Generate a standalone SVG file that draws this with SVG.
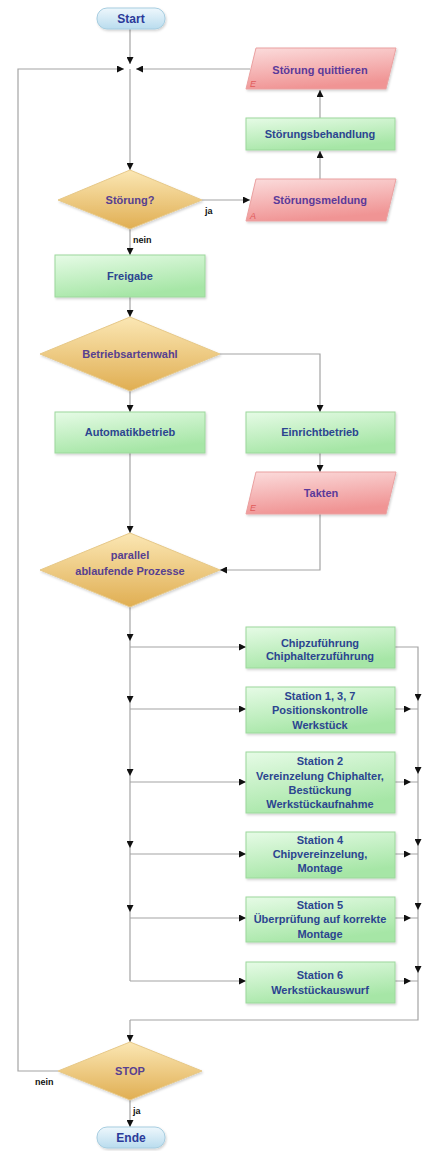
<svg xmlns="http://www.w3.org/2000/svg" width="427" height="1151" viewBox="0 0 427 1151">
<defs>
<linearGradient id="gTerm" x1="0" y1="0" x2="0" y2="1"><stop offset="0" stop-color="#eef7fc"/><stop offset="1" stop-color="#b9dcee"/></linearGradient>
<linearGradient id="gProc" x1="0" y1="0" x2="0.4" y2="1"><stop offset="0" stop-color="#e6fbe6"/><stop offset="1" stop-color="#a6e6a6"/></linearGradient>
<linearGradient id="gIO" x1="0" y1="0" x2="0.3" y2="1"><stop offset="0" stop-color="#fbdcdc"/><stop offset="1" stop-color="#f09494"/></linearGradient>
<linearGradient id="gDec" x1="0" y1="0" x2="0" y2="1"><stop offset="0" stop-color="#fbe7b4"/><stop offset="1" stop-color="#e0ae52"/></linearGradient>
<filter id="sh" x="-10%" y="-10%" width="130%" height="140%"><feDropShadow dx="1" dy="1.5" stdDeviation="1" flood-color="#000" flood-opacity="0.18"/></filter>
<marker id="ah" markerUnits="userSpaceOnUse" markerWidth="7" markerHeight="7" refX="7" refY="3.5" orient="auto"><path d="M0,0 L7,3.5 L0,7 z" fill="#111"/></marker>
<style>
.term{fill:url(#gTerm);stroke:#a6cde0;stroke-width:1;filter:url(#sh)}
.proc{fill:url(#gProc);stroke:#9cd89c;stroke-width:1;filter:url(#sh)}
.io{fill:url(#gIO);stroke:#eaa0a0;stroke-width:1;filter:url(#sh)}
.dec{fill:url(#gDec);stroke:#e6c888;stroke-width:1;filter:url(#sh)}
text{font-family:"Liberation Sans",Arial,sans-serif;font-weight:bold;text-anchor:middle}
.tt{font-size:12px;fill:#2b3a9a}
.tp{font-size:11px;fill:#2b4590}
.ti{font-size:11px;fill:#5b3a9a}
.td{font-size:11px;fill:#574090}
.lab{font-size:9px;fill:#111;text-anchor:start}
.mk{font-size:9px;fill:#e05a5a;font-weight:normal;font-style:italic;text-anchor:start}
.c{fill:none;stroke:#a4a4a4;stroke-width:1.2}
.a{marker-end:url(#ah)}
.ao{fill:none;stroke:none;marker-end:url(#ah)}
</style>
</defs>

<g id="connectors">
<path class="c a" d="M130,29 V64"/>
<path class="c a" d="M250,69 H136"/>
<path class="c a" d="M58,1071 H18 V69 H124"/>
<path class="c a" d="M130,69 V170"/>
<path class="c a" d="M320,118 V90"/>
<path class="c a" d="M320,179 V151"/>
<path class="c a" d="M202,200 H250"/>
<path class="c a" d="M130,229 V255"/>
<path class="c a" d="M130,297 V317"/>
<path class="c a" d="M220,354 H320 V412"/>
<path class="c a" d="M130,391 V412"/>
<path class="c a" d="M320,453 V472"/>
<path class="c a" d="M320,514 V570 H220"/>
<path class="c a" d="M130,453 V533"/>
<path class="c" d="M130,607 V981"/>
<path class="ao" d="M130,630 V641"/>
<path class="ao" d="M130,692 V703"/>
<path class="ao" d="M130,765 V776"/>
<path class="ao" d="M130,837 V848"/>
<path class="ao" d="M130,901 V912"/>
<path class="c a" d="M130,647 H246"/>
<path class="c a" d="M130,709 H246"/>
<path class="c a" d="M130,782 H246"/>
<path class="c a" d="M130,854 H246"/>
<path class="c a" d="M130,918 H246"/>
<path class="c a" d="M130,981 H246"/>
<path class="c" d="M395,647 H418 V1020 H130"/>
<path class="c" d="M395,709 H418 M395,782 H418 M395,854 H418 M395,918 H418 M395,981 H418"/>
<path class="ao" d="M400,709 H411"/>
<path class="ao" d="M400,782 H411"/>
<path class="ao" d="M400,854 H411"/>
<path class="ao" d="M400,918 H411"/>
<path class="ao" d="M400,981 H411"/>
<path class="ao" d="M418,690 V701"/>
<path class="ao" d="M418,763 V774"/>
<path class="ao" d="M418,835 V846"/>
<path class="ao" d="M418,899 V910"/>
<path class="ao" d="M418,962 V973"/>
<path class="c a" d="M130,1020 V1042"/>
<path class="c a" d="M130,1100 V1127"/>
<text class="lab" x="205" y="214">ja</text>
<text class="lab" x="133" y="243">nein</text>
<text class="lab" x="35" y="1085">nein</text>
<text class="lab" x="133" y="1114">ja</text>
</g>

<g id="start"><rect class="term" x="97" y="8" width="68" height="21" rx="10"/><text class="tt" x="131" y="22.5">Start</text></g>

<g id="stoerung-quittieren"><polygon class="io" points="256,48 396,48 386,89 246,89"/><text class="ti" x="320" y="74">Störung quittieren</text><text class="mk" x="250" y="87">E</text></g>

<g id="stoerungsbehandlung"><rect class="proc" x="246" y="118" width="149" height="32"/><text class="tp" x="320" y="138">Störungsbehandlung</text></g>

<g id="stoerungsmeldung"><polygon class="io" points="256,179 396,179 386,221 246,221"/><text class="ti" x="320" y="204">Störungsmeldung</text><text class="mk" x="250" y="219">A</text></g>

<g id="stoerung"><polygon class="dec" points="130,170 202,200 130,229 58,200"/><text class="td" x="130" y="204">Störung?</text></g>

<g id="freigabe"><rect class="proc" x="55" y="255" width="150" height="42"/><text class="tp" x="130" y="280">Freigabe</text></g>

<g id="betriebsartenwahl"><polygon class="dec" points="130,317 220,354 130,391 40,354"/><text class="td" x="130" y="358">Betriebsartenwahl</text></g>

<g id="automatikbetrieb"><rect class="proc" x="55" y="412" width="150" height="41"/><text class="tp" x="130" y="436">Automatikbetrieb</text></g>

<g id="einrichtbetrieb"><rect class="proc" x="246" y="412" width="149" height="41"/><text class="tp" x="320" y="436">Einrichtbetrieb</text></g>

<g id="takten"><polygon class="io" points="256,472 396,472 386,514 246,514"/><text class="ti" x="321" y="497">Takten</text><text class="mk" x="250" y="511">E</text></g>

<g id="parallel"><polygon class="dec" points="130,533 220,570 130,607 40,570"/><text class="td" x="130" y="559">parallel</text><text class="td" x="130" y="575">ablaufende Prozesse</text></g>

<g id="chipzufuehrung"><rect class="proc" x="246" y="627" width="149" height="41"/><text class="tp" x="320" y="647">Chipzuführung</text><text class="tp" x="320" y="660">Chiphalterzuführung</text></g>

<g id="station137"><rect class="proc" x="246" y="687" width="149" height="46"/><text class="tp" x="320" y="700">Station 1, 3, 7</text><text class="tp" x="320" y="714">Positionskontrolle</text><text class="tp" x="320" y="729">Werkstück</text></g>

<g id="station2"><rect class="proc" x="246" y="752" width="149" height="61"/><text class="tp" x="320" y="765">Station 2</text><text class="tp" x="320" y="780">Vereinzelung Chiphalter,</text><text class="tp" x="320" y="794">Bestückung</text><text class="tp" x="320" y="808">Werkstückaufnahme</text></g>

<g id="station4"><rect class="proc" x="246" y="832" width="149" height="46"/><text class="tp" x="320" y="844">Station 4</text><text class="tp" x="320" y="858">Chipvereinzelung,</text><text class="tp" x="320" y="872">Montage</text></g>

<g id="station5"><rect class="proc" x="246" y="897" width="149" height="45"/><text class="tp" x="320" y="909">Station 5</text><text class="tp" x="320" y="923">Überprüfung auf korrekte</text><text class="tp" x="320" y="938">Montage</text></g>

<g id="station6"><rect class="proc" x="246" y="962" width="149" height="41"/><text class="tp" x="320" y="979">Station 6</text><text class="tp" x="320" y="994">Werkstückauswurf</text></g>

<g id="stop"><polygon class="dec" points="130,1042 202,1071 130,1100 58,1071"/><text class="td" x="130" y="1075">STOP</text></g>

<g id="ende"><rect class="term" x="97" y="1127" width="68" height="21" rx="10"/><text class="tt" x="131" y="1142">Ende</text></g>
</svg>
